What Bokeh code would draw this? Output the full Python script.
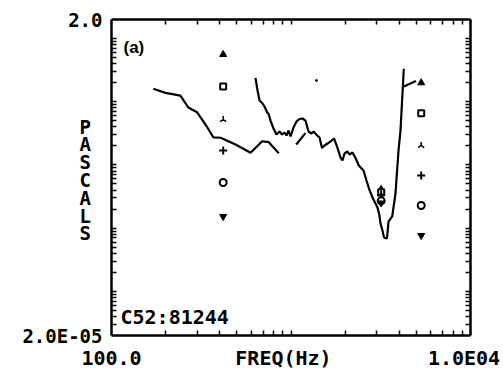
import numpy as np
from bokeh.plotting import figure
from bokeh.models import LogAxis, FixedTicker, Label, Range1d
from bokeh.embed import file_html
from bokeh.resources import INLINE

# ---- data ----
freq_a = [171, 200, 242, 268, 300, 334, 370, 405, 491, 595, 691, 752, 855]
pa_a = [0.160, 0.138, 0.125, 0.081, 0.068, 0.0436, 0.0272, 0.0269, 0.0210,
        0.0156, 0.0237, 0.0229, 0.0153]

freq_b = [634, 651, 668, 694, 712, 737, 749, 769, 799, 830,
          863, 891, 920, 944, 969, 994, 1033, 1073, 1115, 1159,
          1204, 1252, 1301, 1335, 1399, 1441, 1489, 1537, 1597, 1660,
          1736, 1804, 1887, 1936, 1987, 2064, 2118, 2201, 2287, 2386,
          2535, 2634, 2720, 2844, 2956, 3033, 3112, 3152, 3234, 3297,
          3426, 3493, 3663, 3821, 3971, 4074, 4251]
pa_b = [0.239, 0.1505, 0.1046, 0.0937, 0.084, 0.0675, 0.0651, 0.0504, 0.0377, 0.0303,
        0.0338, 0.0303, 0.0326, 0.0292, 0.035, 0.0282, 0.0391, 0.0486, 0.0533, 0.0543,
        0.0504, 0.0338, 0.0314, 0.0338, 0.0292, 0.0272, 0.0185, 0.0203, 0.0218, 0.0235,
        0.0262, 0.0196, 0.0131, 0.01175, 0.01516, 0.01631, 0.01462, 0.01572, 0.01287, 0.00979,
        0.00816, 0.00567, 0.00423, 0.00305, 0.00245, 0.00212, 0.00158, 0.00118, 0.000917, 0.000711,
        0.000685, 0.00127, 0.00153, 0.00353, 0.0169, 0.035, 0.332]

freq_c = [1069, 1204]
pa_c = [0.0210, 0.0318]

freq_d = [4251, 4971]
pa_d = [0.1741, 0.2128]

freq_dot = [1387]
pa_dot = [0.2167]

marker_freq = [419, 3180, 5313]
tri_up = [0.559, 0.0041, 0.1993]
squares = [0.1741, 0.0037, 0.0658]
y_marks = [0.0523, 0.0035, 0.0203]
crosses = [0.0169, 0.0033, 0.0068]
circles = [0.00527, 0.0027, 0.00228]
tri_down = [0.00153, 0.0025, 0.000764]

# ---- axis ticks and labels ----
x_minor = [200, 300, 400, 500, 600, 700, 800, 900, 1000,
           2000, 3000, 4000, 5000, 6000, 7000, 8000, 9000, 10000]
x_label_ticks = [100, 908, 9200]
x_label_texts = ["100.0", "FREQ(Hz)", "1.0E04"]

y_minor = [m * 10.0 ** e for e in range(-5, 1) for m in (1, 2, 3, 4, 5, 6, 7, 8, 9)
           if 2e-5 < m * 10.0 ** e < 2]
y_end_ticks = [2e-5, 2.0]
y_end_texts = ["2.0E-05", "2.0"]
pascal_ticks = [0.04055, 0.0212, 0.01108, 0.005794, 0.00303, 0.001584, 0.000828]
pascal_letters = ["P", "A", "S", "C", "A", "L", "S"]

MONO = "DejaVu Sans Mono"

p = figure(width=502, height=374, x_axis_type="log", y_axis_type="log",
           x_range=Range1d(100, 10000), y_range=Range1d(2e-5, 2),
           output_backend="svg", toolbar_location=None,
           min_border_left=111, min_border_right=32, min_border_top=19, min_border_bottom=39)
p.grid.visible = False
p.outline_line_color = None
p.background_fill_color = "white"
p.border_fill_color = "white"

def style(ax, labels=True, size="20px"):
    ax.axis_line_width = 2.5
    ax.axis_line_color = "black"
    ax.major_tick_in = 0
    ax.major_tick_out = 0
    ax.minor_tick_in = 5
    ax.minor_tick_out = 0
    ax.minor_tick_line_width = 1.5
    ax.minor_tick_line_color = "black"
    if labels:
        ax.major_label_text_font = MONO
        ax.major_label_text_font_style = "bold"
        ax.major_label_text_font_size = size
        ax.major_label_text_color = "black"
    else:
        ax.major_label_text_font_size = "1px"
        ax.major_label_text_alpha = 0
        ax.major_label_standoff = 0

xa = p.xaxis[0]
xa.ticker = FixedTicker(ticks=x_label_ticks, minor_ticks=x_minor)
xa.major_label_overrides = dict(zip(x_label_ticks, x_label_texts))
xa.major_label_standoff = 10
style(xa, size="20px")

ya = p.yaxis[0]
ya.ticker = FixedTicker(ticks=y_end_ticks + pascal_ticks, minor_ticks=y_minor)
overrides = dict(zip(y_end_ticks, y_end_texts))
overrides.update({t: s + "\u00a0" for t, s in zip(pascal_ticks, pascal_letters)})
ya.major_label_overrides = overrides
ya.major_label_standoff = 9
style(ya, size="19px")

top = LogAxis(ticker=FixedTicker(ticks=[100], minor_ticks=x_minor))
style(top, labels=False)
p.add_layout(top, "above")

right = LogAxis(ticker=FixedTicker(ticks=[2e-5], minor_ticks=y_minor))
style(right, labels=False)
p.add_layout(right, "right")

# ---- curves ----
p.line(freq_a, pa_a, line_color="black", line_width=2.2)
p.line(freq_b, pa_b, line_color="black", line_width=2.2)
p.line(freq_c, pa_c, line_color="black", line_width=2.2)
p.line(freq_d, pa_d, line_color="black", line_width=2.2)
p.scatter(freq_dot, pa_dot, marker="circle", size=2, color="black")

# ---- markers ----
p.scatter(marker_freq, tri_up, marker="triangle", size=7, fill_color="black", line_color="black")
p.scatter(marker_freq, squares, marker="square", size=6, fill_color="white", line_color="black", line_width=2)
p.scatter(marker_freq, y_marks, marker="y", size=7, angle=np.pi, line_color="black", line_width=1.5)
p.scatter(marker_freq, crosses, marker="cross", size=8, line_color="black", line_width=2)
p.scatter(marker_freq, circles, marker="circle", size=7, fill_color="white", line_color="black", line_width=2)
p.scatter(marker_freq, tri_down, marker="inverted_triangle", size=7, fill_color="black", line_color="black")

# ---- texts inside the frame ----
p.add_layout(Label(x=100, y=0.73, x_offset=12, text="(a)", text_font="Liberation Sans",
                   text_font_style="bold", text_font_size="17px", text_baseline="middle",
                   text_color="black"))
p.add_layout(Label(x=100, y=3.9e-5, x_offset=9, text="C52:81244", text_font=MONO,
                   text_font_style="bold", text_font_size="20px", text_baseline="alphabetic",
                   text_color="black"))

open("out.html", "w").write(file_html(p, INLINE))
